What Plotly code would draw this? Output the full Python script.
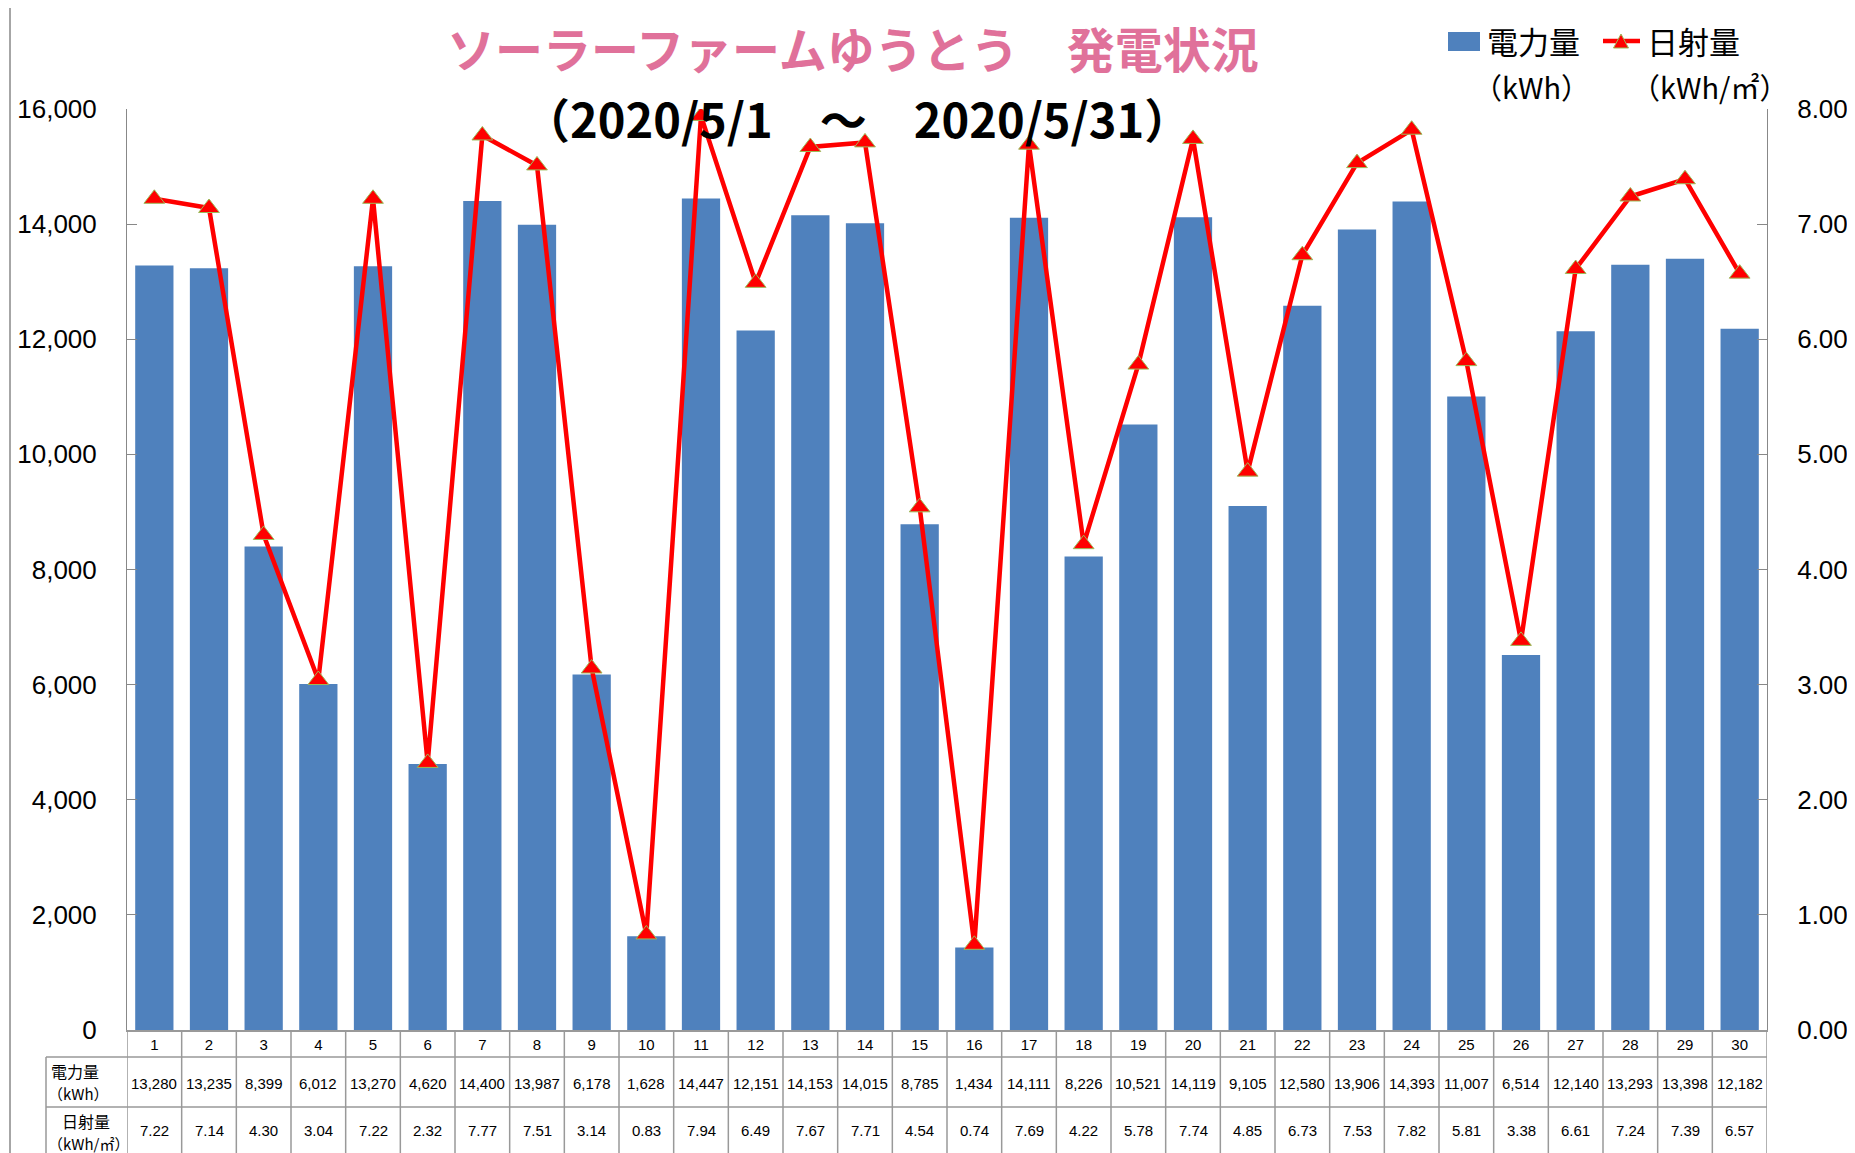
import plotly.graph_objects as go

# 2020年5月 日別データ
days = list(range(1, 31))
power_kwh = [13280, 13235, 8399, 6012, 13270, 4620, 14400, 13987, 6178, 1628,
             14447, 12151, 14153, 14015, 8785, 1434, 14111, 8226, 10521, 14119,
             9105, 12580, 13906, 14393, 11007, 6514, 12140, 13293, 13398, 12182]
irradiance = [7.22, 7.14, 4.30, 3.04, 7.22, 2.32, 7.77, 7.51, 3.14, 0.83,
              7.94, 6.49, 7.67, 7.71, 4.54, 0.74, 7.69, 4.22, 5.78, 7.74,
              4.85, 6.73, 7.53, 7.82, 5.81, 3.38, 6.61, 7.24, 7.39, 6.57]

# page body has an 8px margin, so the figure is 8px smaller
W, H = 1847, 1145
L, R, T, B = 119, 88, 101, 123
JP = "Noto Sans CJK JP"
NUM = "Liberation Sans"
GRID = "#999999"
BLUE = "#4F81BD"
RED = "#FF0000"


# positions given in screen pixels of the window
def px_x(p):
    return (p - 8 - L) / (W - L - R)


def px_y(p):
    return (H - B - (p - 8)) / (H - T - B)


fig = go.Figure()

fig.add_trace(go.Bar(
    x=days, y=power_kwh, name="電力量（kWh）",
    marker=dict(color=BLUE, line=dict(width=0)),
))

fig.add_trace(go.Scatter(
    x=days, y=irradiance, name="日射量（kWh/㎡）", yaxis="y2",
    mode="lines+markers",
    line=dict(color=RED, width=4.5),
    marker=dict(symbol="triangle-up", size=18, color=RED,
                line=dict(color="#9BBB59", width=1)),
))

# 表の罫線
shapes = []
for d in range(0, 31):
    shapes.append(dict(type="line", xref="x", yref="paper",
                       x0=d + 0.5, x1=d + 0.5, y0=0, y1=px_y(1165),
                       line=dict(color=GRID, width=1.5)))
for yy in (1057, 1107):
    shapes.append(dict(type="line", xref="paper", yref="paper",
                       x0=px_x(46), x1=1, y0=px_y(yy), y1=px_y(yy),
                       line=dict(color=GRID, width=1.5)))
shapes.append(dict(type="line", xref="paper", yref="paper",
                   x0=px_x(46), x1=px_x(46), y0=px_y(1057), y1=px_y(1165),
                   line=dict(color=GRID, width=1.5)))
# 外枠
shapes.append(dict(type="rect", xref="paper", yref="paper",
                   x0=px_x(10), x1=px_x(1853), y0=px_y(1165), y1=px_y(7),
                   line=dict(color="#A6A6A6", width=2)))

# 凡例
shapes.append(dict(type="rect", xref="paper", yref="paper",
                   x0=px_x(1448), x1=px_x(1480), y0=px_y(51), y1=px_y(32),
                   fillcolor=BLUE, line=dict(width=0)))
shapes.append(dict(type="line", xref="paper", yref="paper",
                   x0=px_x(1603), x1=px_x(1640), y0=px_y(41), y1=px_y(41),
                   line=dict(color=RED, width=4.5)))
tri = "M {:.5f} {:.5f} L {:.5f} {:.5f} L {:.5f} {:.5f} Z".format(
    px_x(1613.5), px_y(48), px_x(1628.5), px_y(48), px_x(1621), px_y(34))
shapes.append(dict(type="path", xref="paper", yref="paper", path=tri,
                   fillcolor=RED, line=dict(color="#9BBB59", width=1)))


def note(text, x, y, size, color="#000", family=JP, xanchor="center", xref="paper"):
    return dict(text=text, x=x, y=y, xref=xref, yref="paper", showarrow=False,
                xanchor=xanchor, yanchor="middle",
                font=dict(family=family, size=size, color=color))


annotations = [
    note("<b>ソーラーファームゆうとう　発電状況</b>", px_x(853), px_y(47), 48, "#E0719A"),
    note("<b>（2020/5/1　～　2020/5/31）</b>", px_x(857), px_y(117), 47),
    note("電力量", px_x(1485), px_y(41), 31, xanchor="left"),
    note("（kWh）", px_x(1471), px_y(86), 29, xanchor="left"),
    note("日射量", px_x(1645), px_y(41), 31, xanchor="left"),
    note("（kWh/㎡）", px_x(1629), px_y(86), 29, xanchor="left"),
    note("電力量", px_x(49), px_y(1071), 16, xanchor="left"),
    note("（kWh）", px_x(46), px_y(1093), 15, xanchor="left"),
    note("日射量", px_x(86), px_y(1121), 16),
    note("（kWh/㎡）", px_x(46), px_y(1143), 15, xanchor="left"),
]
for d, p, s in zip(days, power_kwh, irradiance):
    annotations.append(note(f"{p:,}", d, px_y(1083), 15, family=NUM, xref="x"))
    annotations.append(note(f"{s:.2f}", d, px_y(1130), 15, family=NUM, xref="x"))

fig.update_layout(
    width=W, height=H,
    margin=dict(l=L, r=R, t=T, b=B, autoexpand=False),
    paper_bgcolor="white", plot_bgcolor="white",
    bargap=0.3,
    showlegend=False,
    xaxis=dict(range=[0.5, 30.5], tickvals=days, ticktext=[str(d) for d in days],
               showline=True, linecolor=GRID, linewidth=1.5, ticks="",
               showgrid=False, zeroline=False,
               tickfont=dict(family=NUM, size=15, color="#000")),
    yaxis=dict(range=[0, 16000], dtick=2000, tickformat=",", ticks="inside",
               ticklen=10, tickcolor="#888888", showline=True, linecolor="#888888",
               showgrid=False, zeroline=False, ticklabelstandoff=24,
               tickfont=dict(family=NUM, size=26, color="#000")),
    yaxis2=dict(range=[0, 8], dtick=1, tickformat=".2f", overlaying="y", side="right",
                ticks="inside", ticklen=10, tickcolor="#888888", showline=True,
                linecolor="#888888", showgrid=False, zeroline=False, ticklabelstandoff=24,
                tickfont=dict(family=NUM, size=26, color="#000")),
    shapes=shapes,
    annotations=annotations,
)

fig.write_html("out.html")
